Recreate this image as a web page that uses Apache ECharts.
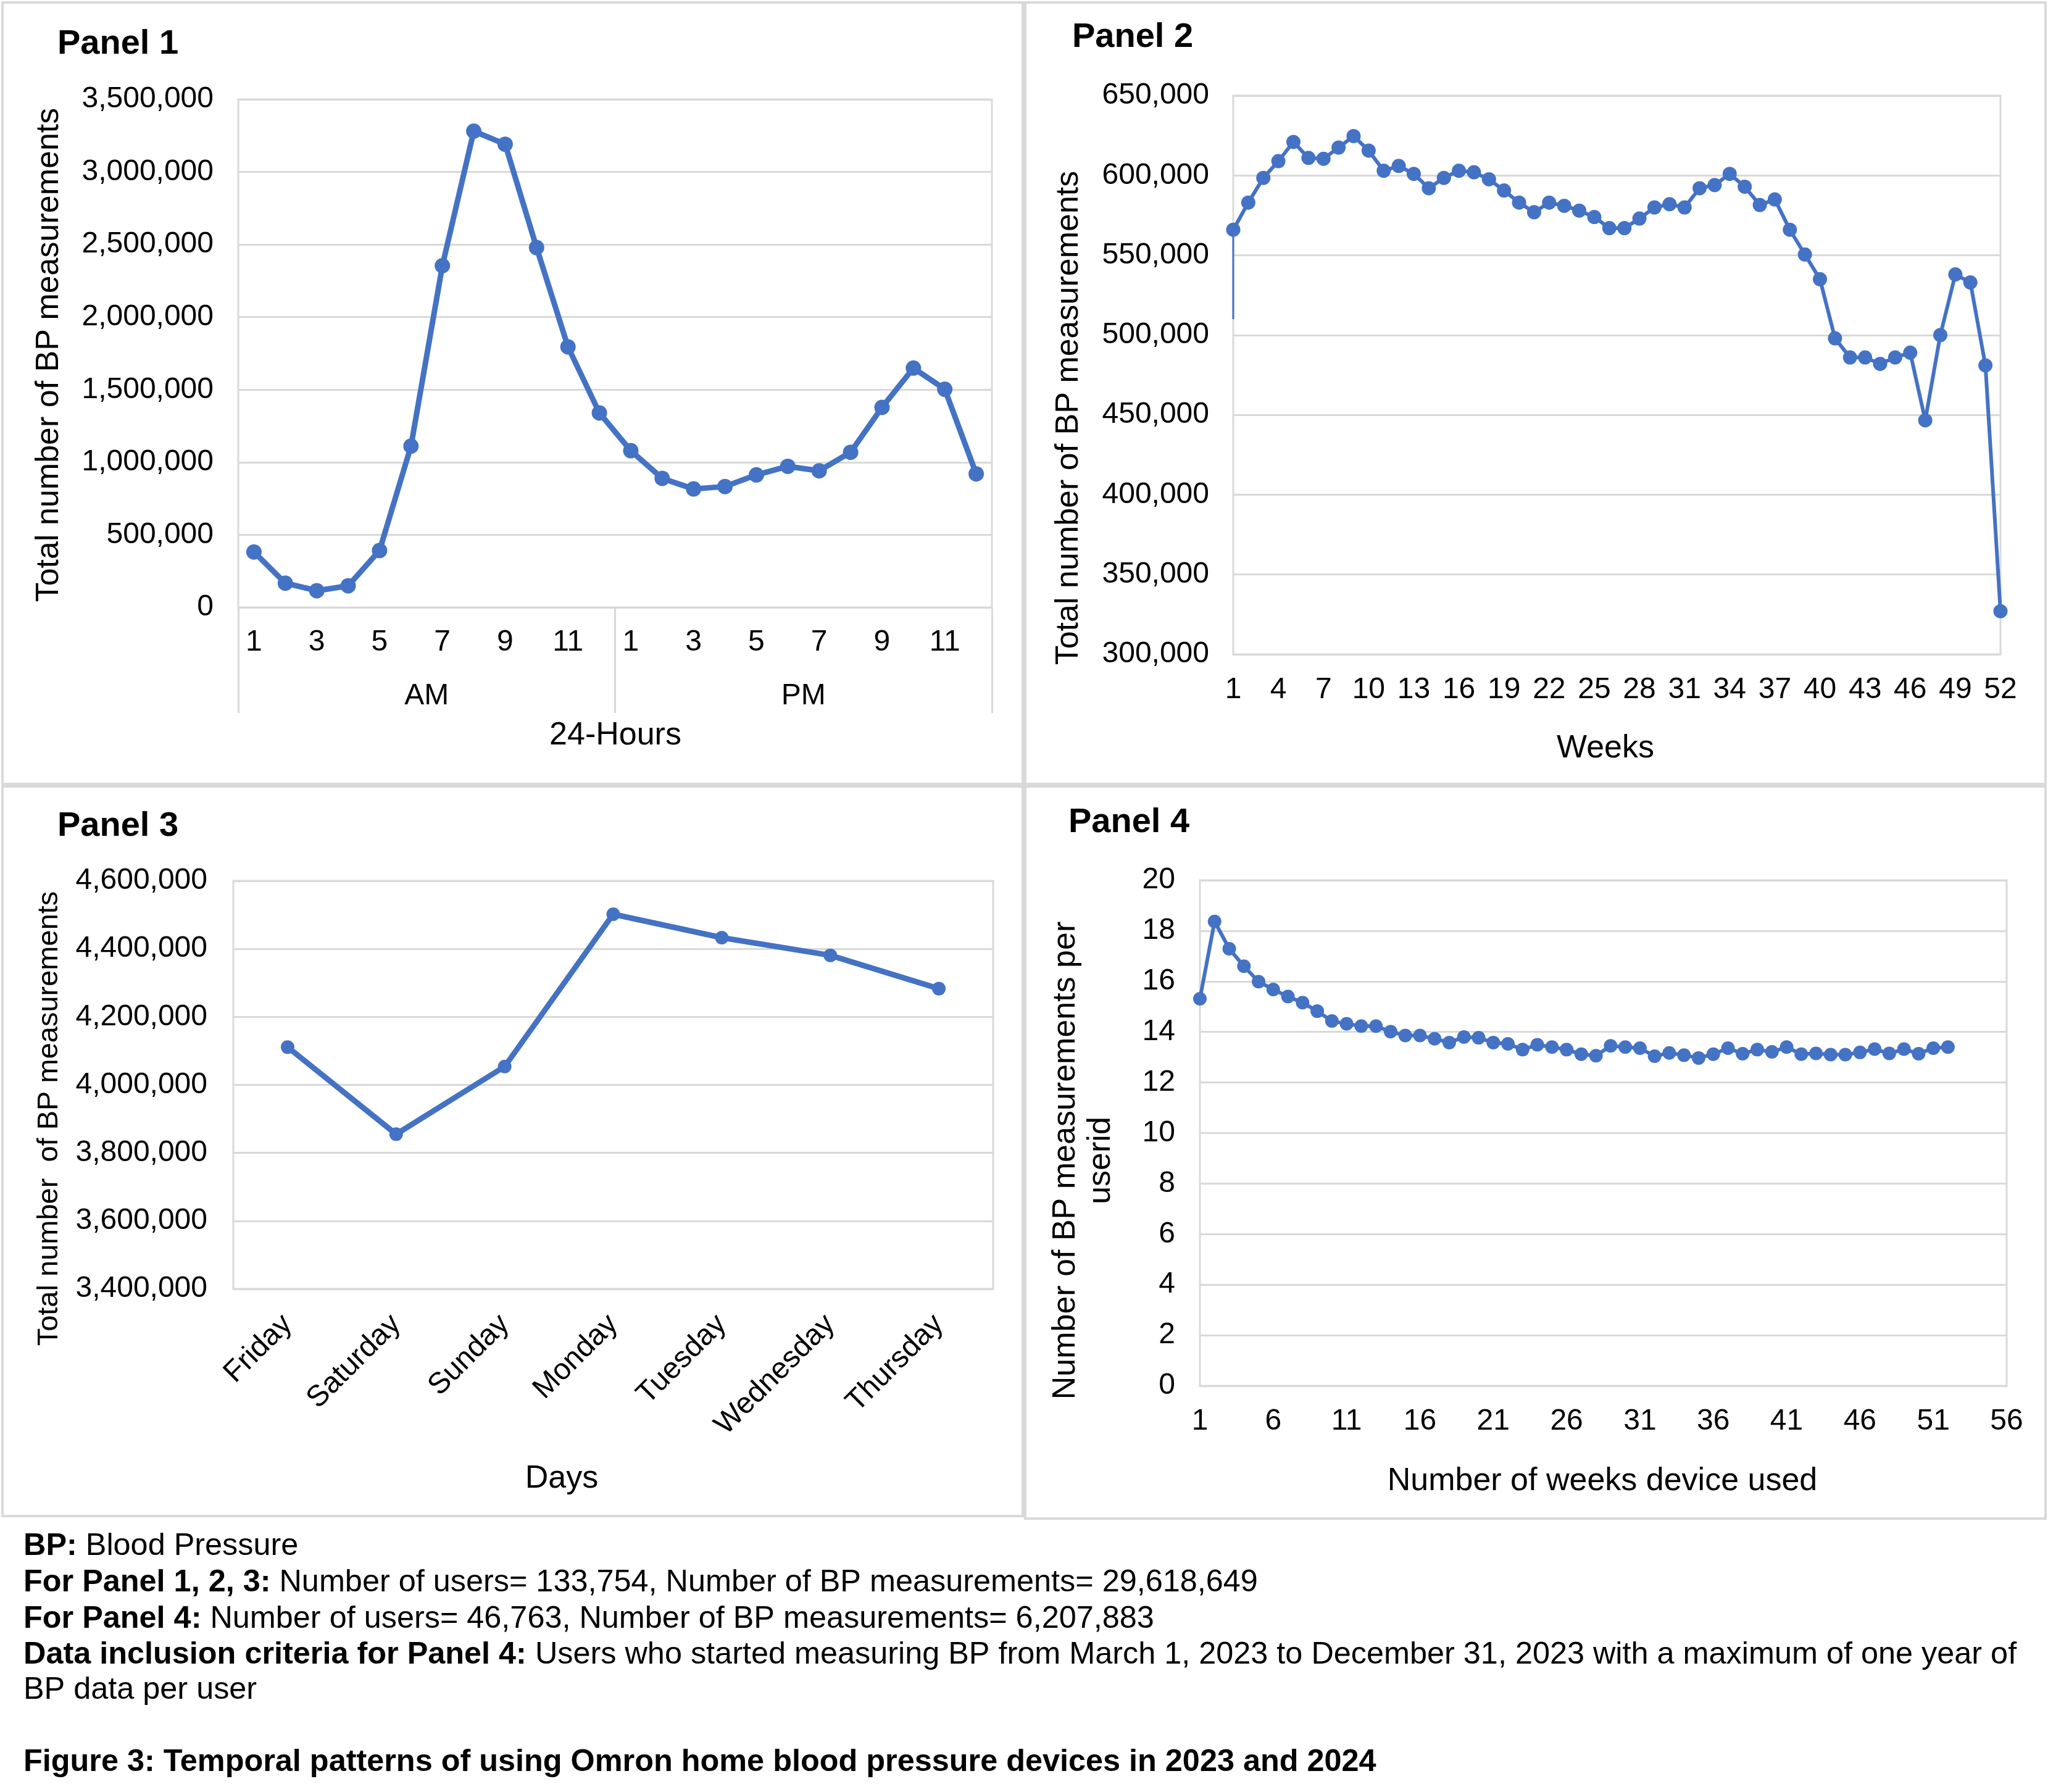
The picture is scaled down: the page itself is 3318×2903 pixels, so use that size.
<!DOCTYPE html>
<html>
<head>
<meta charset="utf-8">
<script src="https://cdn.jsdelivr.net/npm/echarts@6/dist/echarts.min.js"></script>
<style>html,body{margin:0;padding:0;background:#fff}#c{width:3318px;height:2903px}</style>
</head>
<body>
<div id="c"></div>
<script>
// ---------- Panel 1: 24-hour ----------
const hours = ['1 AM','2 AM','3 AM','4 AM','5 AM','6 AM','7 AM','8 AM','9 AM','10 AM','11 AM','12 AM',
               '1 PM','2 PM','3 PM','4 PM','5 PM','6 PM','7 PM','8 PM','9 PM','10 PM','11 PM','12 PM'];
const periods = ['AM', 'PM'];
const hourlyCounts = [382000, 167000, 115000, 149000, 392000, 1111000, 2354000, 3281000, 3191000, 2479000, 1795000, 1340000,
                      1080000, 889000, 816000, 833000, 913000, 972000, 941000, 1069000, 1378000, 1649000, 1503000, 920000];

// ---------- Panel 2: weeks ----------
const weeks = ['1','2','3','4','5','6','7','8','9','10','11','12','13','14','15','16','17','18','19','20','21','22','23','24','25','26',
               '27','28','29','30','31','32','33','34','35','36','37','38','39','40','41','42','43','44','45','46','47','48','49','50','51','52'];
const weeklyCounts = [566000, 583000, 598500, 609000, 621000, 611000, 610500, 617500, 624700, 615600, 603000, 606000, 601000,
                      592000, 598500, 603000, 602000, 597600, 590600, 583000, 577000, 583000, 581000, 578000, 574000, 567000,
                      567000, 573000, 580000, 582000, 580000, 592000, 594000, 601000, 593000, 581500, 585000, 566000, 550500,
                      535000, 498000, 486000, 486000, 482000, 486000, 489000, 446600, 500000, 538000, 533000, 481000, 327000];
// short vertical stub drawn at week 1 in the original chart
const week1Stub = [510000, 566000];

// ---------- Panel 3: days ----------
const days = ['Friday', 'Saturday', 'Sunday', 'Monday', 'Tuesday', 'Wednesday', 'Thursday'];
const dailyCounts = [4111000, 3855000, 4054000, 4502000, 4433000, 4381000, 4283000];

// ---------- Panel 4: weeks device used ----------
const weeksUsed = ['1','2','3','4','5','6','7','8','9','10','11','12','13','14','15','16','17','18','19','20','21','22','23','24','25','26','27','28',
                   '29','30','31','32','33','34','35','36','37','38','39','40','41','42','43','44','45','46','47','48','49','50','51','52','53','54','55','56'];
const perUserCounts = [15.31, 18.37, 17.29, 16.6, 15.99, 15.68, 15.4, 15.16, 14.82, 14.43, 14.32, 14.23, 14.23, 14.01, 13.86, 13.86,
                       13.73, 13.58, 13.8, 13.77, 13.58, 13.53, 13.3, 13.49, 13.4, 13.3, 13.12, 13.06, 13.45, 13.4, 13.36, 13.04,
                       13.17, 13.08, 12.97, 13.12, 13.36, 13.14, 13.3, 13.21, 13.4, 13.12, 13.15, 13.1, 13.1, 13.19, 13.32, 13.15,
                       13.32, 13.14, 13.36, 13.4];

const FONT = 'Liberation Sans, Arial, sans-serif';
const BLUE = '#4472C4';
const GRIDC = '#d9d9d9';
const fmtComma = v => Number(v).toLocaleString('en-US');

const tickLabel = (extra) => Object.assign({ fontFamily: FONT, fontSize: 48, color: '#000' }, extra || {});
const splitLine = { show: true, lineStyle: { color: GRIDC, width: 3 } };
const gridBase = { show: true, borderColor: GRIDC, borderWidth: 3, containLabel: false, outerBoundsMode: 'none' };
const axisLine = { show: true, lineStyle: { color: GRIDC, width: 3 } };

const chart = echarts.init(document.getElementById('c'), null, { renderer: 'canvas' });

const option = {
  backgroundColor: '#fff',
  animation: false,
  grid: [
    Object.assign({ left: 386, top: 161, width: 1221, height: 823 }, gridBase),
    Object.assign({ left: 1998, top: 155, width: 1243, height: 905 }, gridBase),
    Object.assign({ left: 378, top: 1427, width: 1231, height: 661 }, gridBase),
    Object.assign({ left: 1944, top: 1426, width: 1307, height: 819 }, gridBase)
  ],
  xAxis: [
    { gridIndex: 0, type: 'category', data: hours, boundaryGap: true,
      axisLine, axisTick: { show: false },
      axisLabel: tickLabel({ interval: 1, margin: 33, formatter: v => v.split(' ')[0] }) },
    { gridIndex: 0, type: 'category', data: periods, boundaryGap: true, position: 'bottom',
      axisLine: { show: false },
      axisTick: { show: true, interval: 0, length: 171, lineStyle: { color: GRIDC, width: 3 } },
      axisLabel: tickLabel({ margin: 120 }) },
    { gridIndex: 1, type: 'category', data: weeks, boundaryGap: false,
      axisLine, axisTick: { show: false },
      axisLabel: tickLabel({ interval: 2, margin: 34 }) },
    { gridIndex: 2, type: 'category', data: days, boundaryGap: true,
      axisLine, axisTick: { show: false },
      axisLabel: tickLabel({ interval: 0, rotate: 45, margin: 50 }) },
    { gridIndex: 3, type: 'category', data: weeksUsed, boundaryGap: false,
      axisLine, axisTick: { show: false },
      axisLabel: tickLabel({ interval: 4, margin: 34 }) }
  ],
  yAxis: [
    { gridIndex: 0, type: 'value', min: 0, max: 3500000, interval: 500000,
      axisLine: { show: false }, axisTick: { show: false }, splitLine,
      axisLabel: tickLabel({ margin: 40, formatter: fmtComma }) },
    { gridIndex: 1, type: 'value', min: 300000, max: 650000, interval: 50000,
      axisLine: { show: false }, axisTick: { show: false }, splitLine,
      axisLabel: tickLabel({ margin: 39, formatter: fmtComma }) },
    { gridIndex: 2, type: 'value', min: 3400000, max: 4600000, interval: 200000,
      axisLine: { show: false }, axisTick: { show: false }, splitLine,
      axisLabel: tickLabel({ margin: 42, formatter: fmtComma }) },
    { gridIndex: 3, type: 'value', min: 0, max: 20, interval: 2,
      axisLine: { show: false }, axisTick: { show: false }, splitLine,
      axisLabel: tickLabel({ margin: 40 }) }
  ],
  series: [
    { type: 'line', xAxisIndex: 0, yAxisIndex: 0, data: hourlyCounts, symbol: 'circle', symbolSize: 25, showAllSymbol: true,
      lineStyle: { color: BLUE, width: 9 }, itemStyle: { color: BLUE } },
    { type: 'line', xAxisIndex: 2, yAxisIndex: 1, data: week1Stub.map(v => [weeks[0], v]), symbol: 'none',
      lineStyle: { color: BLUE, width: 3 }, itemStyle: { color: BLUE }, z: 1 },
    { type: 'line', xAxisIndex: 2, yAxisIndex: 1, data: weeklyCounts, symbol: 'circle', symbolSize: 23, showAllSymbol: true,
      lineStyle: { color: BLUE, width: 6 }, itemStyle: { color: BLUE } },
    { type: 'line', xAxisIndex: 3, yAxisIndex: 2, data: dailyCounts, symbol: 'circle', symbolSize: 22, showAllSymbol: true,
      lineStyle: { color: BLUE, width: 9 }, itemStyle: { color: BLUE } },
    { type: 'line', xAxisIndex: 4, yAxisIndex: 3, data: perUserCounts, symbol: 'circle', symbolSize: 22, showAllSymbol: true,
      lineStyle: { color: BLUE, width: 6 }, itemStyle: { color: BLUE } }
  ],
  graphic: []
};

// panel frames
const frames = [[4, 4, 1653, 1266], [1661, 4, 1653, 1266], [4, 1274, 1653, 1182], [1661, 1274, 1653, 1186]];
frames.forEach(f => option.graphic.push({
  type: 'rect', shape: { x: f[0], y: f[1], width: f[2], height: f[3] },
  style: { fill: 'none', stroke: GRIDC, lineWidth: 4 }, silent: true, z: -1
}));

// panel titles
const panelTitles = [['Panel 1', 93, 72], ['Panel 2', 1737, 61], ['Panel 3', 93, 1339], ['Panel 4', 1731, 1333]];
panelTitles.forEach(t => option.graphic.push({
  type: 'text', x: t[1], y: t[2],
  style: { text: t[0], fontFamily: FONT, fontSize: 56, fontWeight: 'bold', fill: '#000', textAlign: 'left', textVerticalAlign: 'middle' }
}));

// axis titles: text, x, y, rotation, font size
const axisTitles = [
  ['24-Hours', 997, 1192, 0, 52],
  ['Weeks', 2601, 1213, 0, 52],
  ['Days', 910, 2396, 0, 52],
  ['Number of weeks device used', 2596, 2400, 0, 52],
  ['Total number of BP measurements', 80, 575, Math.PI / 2, 52],
  ['Total number of BP measurements', 1732, 677, Math.PI / 2, 52],
  ['Total number  of BP measurements', 80, 1812, Math.PI / 2, 47],
  ['Number of BP measurements per\nuserid', 1755, 1880, Math.PI / 2, 52]
];
axisTitles.forEach(t => option.graphic.push({
  type: 'text', x: t[1], y: t[2], rotation: t[3],
  style: { text: t[0], fontFamily: FONT, fontSize: t[4], lineHeight: 57, fill: '#000', textAlign: 'center', textVerticalAlign: 'middle' }
}));

// footnotes
const rich = { b: { fontFamily: FONT, fontSize: 50.4, fontWeight: 'bold', fill: '#000' },
               n: { fontFamily: FONT, fontSize: 50.4, fill: '#000' } };
const notes = [
  ['{b|BP:}{n| Blood Pressure}', 2505],
  ['{b|For Panel 1, 2, 3:}{n| Number of users= 133,754, Number of BP measurements= 29,618,649}', 2564],
  ['{b|For Panel 4:}{n| Number of users= 46,763, Number of BP measurements= 6,207,883}', 2623],
  ['{b|Data inclusion criteria for Panel 4:}{n| Users who started measuring BP from March 1, 2023 to December 31, 2023 with a maximum of one year of}', 2681],
  ['{n|BP data per user}', 2738],
  ['{b|Figure 3: Temporal patterns of using Omron home blood pressure devices in 2023 and 2024}', 2855]
];
notes.forEach(n => option.graphic.push({
  type: 'text', x: 38, y: n[1],
  style: { text: n[0], rich, fontFamily: FONT, fontSize: 50.4, fill: '#000', textAlign: 'left', textVerticalAlign: 'middle' }
}));

chart.setOption(option);
</script>
</body>
</html>
